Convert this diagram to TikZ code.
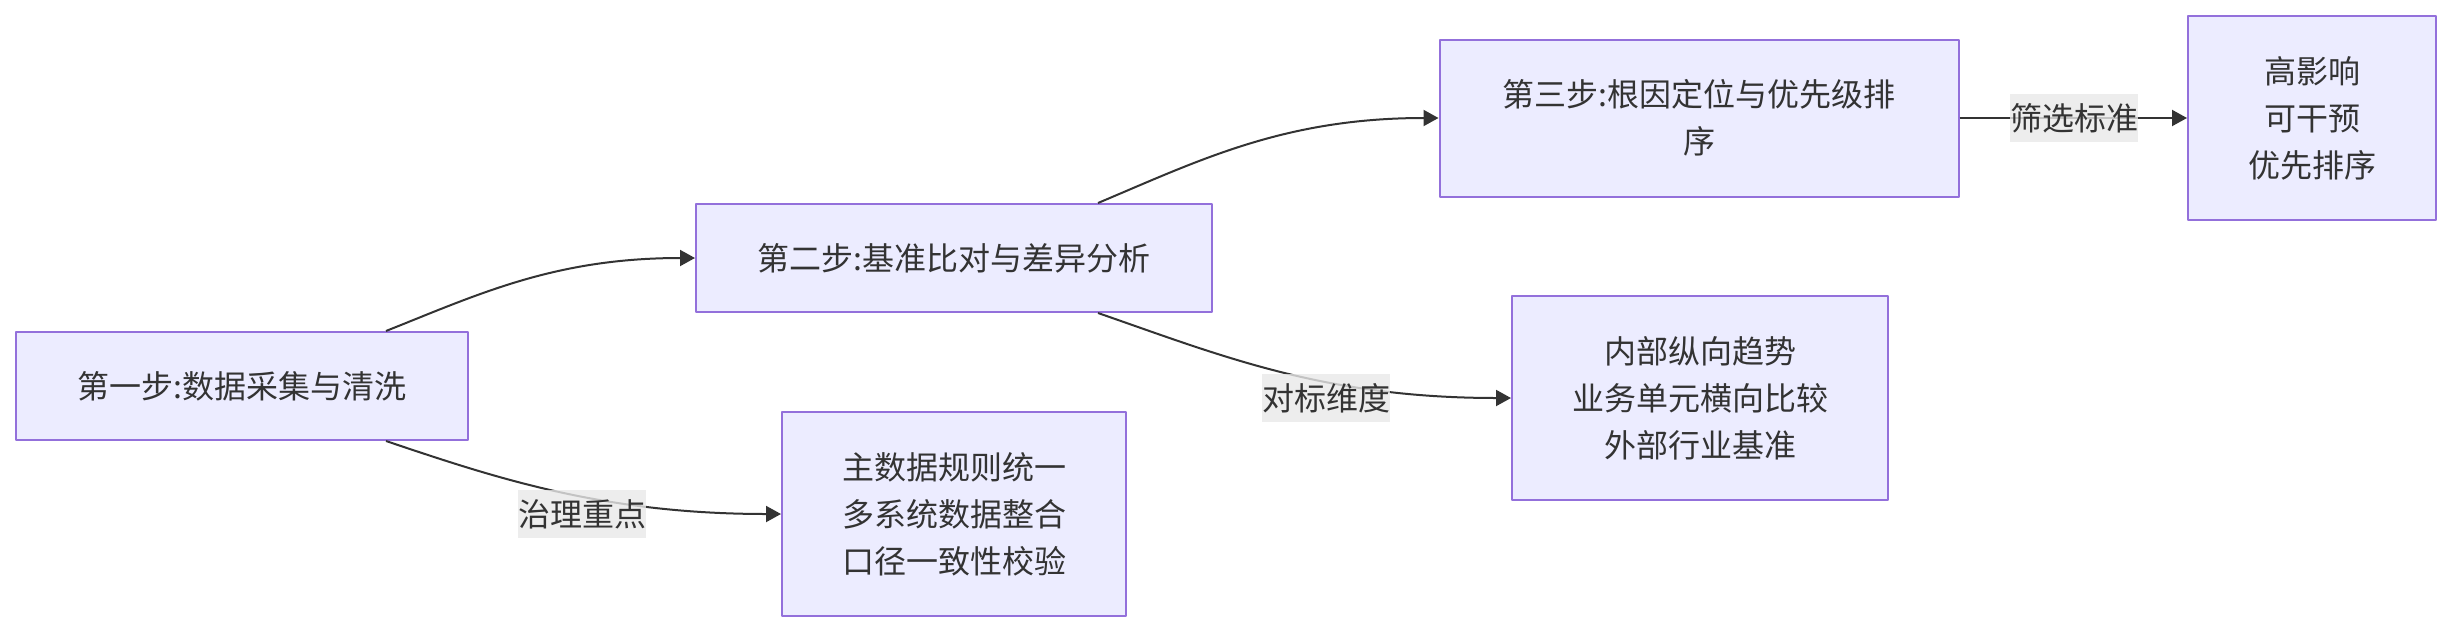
\documentclass[tikz,border=0pt]{standalone}
\usepackage{fontspec}
\newfontfamily\cjk{Noto Sans CJK SC}
\usetikzlibrary{arrows.meta}

\definecolor{boxfill}{HTML}{ECECFF}
\definecolor{boxline}{HTML}{9370DB}
\definecolor{edgeline}{HTML}{333333}
\definecolor{labelbg}{HTML}{E8E8E8}

\tikzset{
  stepbox/.style={draw=boxline,fill=boxfill,line width=2pt,align=center,
    inner sep=0pt,text=edgeline,font=\cjk\fontsize{32}{47}\selectfont},
  edgelabel/.style={fill=labelbg,fill opacity=0.8,text opacity=1,inner sep=0pt,
    minimum height=48pt,text=edgeline,font=\cjk\fontsize{32}{47}\selectfont},
  flow/.style={draw=edgeline,line width=2pt,-{Triangle[length=15pt,width=16pt]}}
}

\begin{document}
\begin{tikzpicture}[x=1pt,y=-1pt,line join=round]
  \useasboundingbox (0,0) rectangle (2451,632);

  % ---- the three steps ------------------------------------------------------
  \node[stepbox,minimum width=452pt,minimum height=108pt] (s1) at (242,386) {第一步:数据采集与清洗};
  \node[stepbox,minimum width=516pt,minimum height=108pt] (s2) at (954,258) {第二步:基准比对与差异分析};
  \node[stepbox,minimum width=519pt,minimum height=157pt] (s3) at (1699,118) {第三步:根因定位与优先级排\\序};

  % ---- what each step gives -------------------------------------------------
  \node[stepbox,minimum width=344pt,minimum height=204pt] (r1) at (954,514) {主数据规则统一\\多系统数据整合\\口径一致性校验};
  \node[stepbox,minimum width=376pt,minimum height=204pt] (r2) at (1700,398) {内部纵向趋势\\业务单元横向比较\\外部行业基准};
  \node[stepbox,minimum width=248pt,minimum height=204pt] (r3) at (2312,118) {高影响\\可干预\\优先排序};

  % ---- connectors -----------------------------------------------------------
  \draw[flow] ([xshift=144pt]s1.north) .. controls +(93,-37) and +(-140,0) .. (s2.west);
  \draw[flow] ([xshift=144pt]s2.north) .. controls +(102,-43) and +(-154,0) .. (s3.west);
  \draw[flow] ([xshift=144pt]s2.south) .. controls +(124,43) and +(-187,0) .. (r2.west);
  \draw[flow] ([xshift=144pt]s1.south) .. controls +(110,37) and +(-178,0) .. (r1.west);
  \draw[flow] (s3.east) -- (r3.west);

  % ---- edge labels ----------------------------------------------------------
  \node[edgelabel] (l1) at (582,514) {治理重点};
  \node[edgelabel] (l2) at (1326,398) {对标维度};
  \node[edgelabel] (l3) at (2074,118) {筛选标准};

\end{tikzpicture}
\end{document}
